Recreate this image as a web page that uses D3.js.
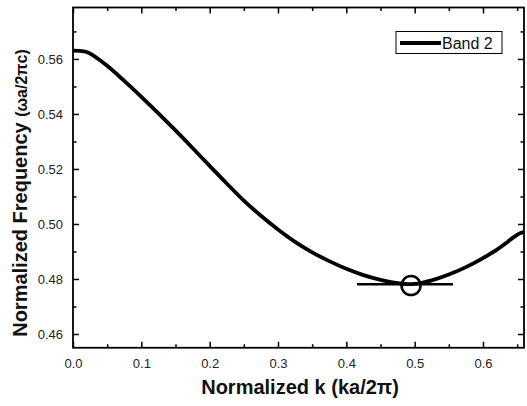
<!DOCTYPE html>
<html><head><meta charset="utf-8">
<script src="https://cdn.jsdelivr.net/npm/d3@7"></script>
<style>body{margin:0;background:#fff}svg{display:block}text{font-family:Arial,"Liberation Sans",sans-serif}</style>
</head><body><svg id="c" width="527" height="406"></svg>
<script>
const kValues = [0,0.01,0.02,0.03,0.04,0.05,0.075,0.1,0.125,0.15,0.175,0.2,0.225,0.25,0.275,0.3,0.325,0.35,0.375,0.4,0.425,0.45,0.475,0.49,0.5,0.525,0.55,0.575,0.6,0.62,0.635,0.645,0.655,0.66];
const band2 = [0.5630,0.5629,0.5625,0.5612,0.5594,0.5575,0.5520,0.5462,0.5402,0.5340,0.5276,0.5211,0.5147,0.5085,0.5030,0.4980,0.4935,0.4897,0.4865,0.4837,0.4814,0.4797,0.4785,0.4781,0.4782,0.4795,0.4816,0.4843,0.4876,0.4906,0.4933,0.4952,0.4967,0.4970];
const xTicks = [0,0.1,0.2,0.3,0.4,0.5,0.6];
const xMinor = [0.05,0.15,0.25,0.35,0.45,0.55,0.65];
const yTicks = [0.46,0.48,0.50,0.52,0.54,0.56];
const yMinor = [0.47,0.49,0.51,0.53,0.55,0.57];
const minPoint = [0.4947, 0.4776];
const flatLine = [[0.4156,0.4781],[0.556,0.4781]];
const seriesName = "Band 2";

const svg = d3.select("#c");
const L=73, R=524, T=7.5, B=347.75;
const x = d3.scaleLinear().domain([0,0.66]).range([L,R]);
const y = d3.scaleLinear().domain([0.455,0.5787]).range([B,T]);

// curve
const line = d3.line().x((d,i)=>x(kValues[i])).y(d=>y(d)).curve(d3.curveMonotoneX);
svg.append("path").datum(band2).attr("d",line).attr("fill","none").attr("stroke","#000").attr("stroke-width",3.8).attr("stroke-linejoin","round");

// min marker
svg.append("line").attr("x1",x(flatLine[0][0])).attr("x2",x(flatLine[1][0])).attr("y1",y(flatLine[0][1])).attr("y2",y(flatLine[1][1])).attr("stroke","#000").attr("stroke-width",2.5);
svg.append("circle").attr("cx",x(minPoint[0])).attr("cy",y(minPoint[1])).attr("r",9.5).attr("fill","none").attr("stroke","#000").attr("stroke-width",2.5);

// axes (ticks inward)
function axisG(axis, tr){ return svg.append("g").attr("transform",tr).call(axis); }
const fmtX = d3.format(".1f"), fmtY = d3.format(".2f");
axisG(d3.axisBottom(x).tickValues(xTicks).tickSizeInner(-6).tickSizeOuter(0).tickPadding(11).tickFormat(fmtX),`translate(0,${B})`);
axisG(d3.axisBottom(x).tickValues(xMinor).tickSizeInner(-3.5).tickSizeOuter(0).tickFormat(""),`translate(0,${B})`);
axisG(d3.axisTop(x).tickValues(xTicks).tickSizeInner(-6).tickSizeOuter(0).tickFormat(""),`translate(0,${T})`);
axisG(d3.axisTop(x).tickValues(xMinor).tickSizeInner(-3.5).tickSizeOuter(0).tickFormat(""),`translate(0,${T})`);
axisG(d3.axisLeft(y).tickValues(yTicks).tickSizeInner(-6).tickSizeOuter(0).tickPadding(10).tickFormat(fmtY),`translate(${L},0)`);
axisG(d3.axisLeft(y).tickValues(yMinor).tickSizeInner(-3.5).tickSizeOuter(0).tickFormat(""),`translate(${L},0)`);
axisG(d3.axisRight(y).tickValues(yTicks).tickSizeInner(-6).tickSizeOuter(0).tickFormat(""),`translate(${R},0)`);
axisG(d3.axisRight(y).tickValues(yMinor).tickSizeInner(-3.5).tickSizeOuter(0).tickFormat(""),`translate(${R},0)`);
svg.selectAll(".domain").remove();
svg.selectAll(".tick line").attr("stroke","#000").attr("stroke-width",1.5);
svg.selectAll(".tick text").attr("font-size",13).attr("fill","#222").attr("font-family","Arial, 'Liberation Sans', sans-serif");

// frame
svg.append("rect").attr("x",L).attr("y",T).attr("width",R-L).attr("height",B-T).attr("fill","none").attr("stroke","#000").attr("stroke-width",1.8);

// legend
const lg = svg.append("g");
lg.append("rect").attr("x",396).attr("y",31.5).attr("width",106).attr("height",22).attr("fill","#fff").attr("stroke","#000").attr("stroke-width",1);
lg.append("line").attr("x1",400).attr("x2",441).attr("y1",43).attr("y2",43).attr("stroke","#000").attr("stroke-width",3.8);
lg.append("text").attr("x",442).attr("y",48.5).attr("font-size",16).attr("fill","#111").text(seriesName);

// axis titles
svg.append("text").attr("x",300).attr("y",394).attr("text-anchor","middle").attr("font-size",20).attr("font-weight","bold").attr("fill","#111").text("Normalized k (ka/2π)");
const yt = svg.append("text").attr("transform","translate(27,193) rotate(-90)").attr("text-anchor","middle").attr("font-weight","bold").attr("fill","#111");
yt.append("tspan").attr("font-size",20).text("Normalized Frequency ");
yt.append("tspan").attr("font-size",16).text("(ωa/2πc)");
</script></body></html>
